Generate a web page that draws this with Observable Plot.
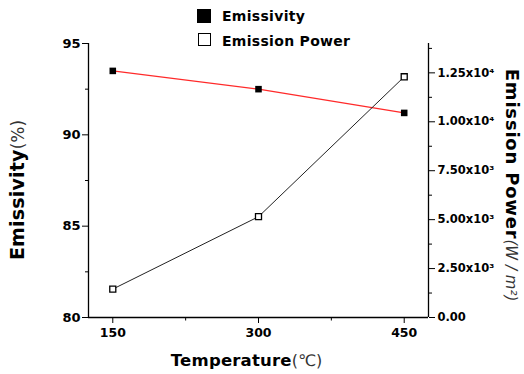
<!DOCTYPE html>
<html><head><meta charset="utf-8">
<script src="https://cdn.jsdelivr.net/npm/d3@7"></script>
<script src="https://cdn.jsdelivr.net/npm/@observablehq/plot@0.6"></script>
<style>
body{margin:0;background:#fff;}
#wrap{position:relative;width:524px;height:374px;overflow:hidden;background:#fff;}
#wrap svg{position:absolute;left:0;top:0;}
#wrap svg text{font-weight:bold;}
.ov{position:absolute;white-space:nowrap;line-height:1;color:#000;font-family:"DejaVu Sans",sans-serif;}
.b{font-weight:bold;}
.lt{font-weight:normal;color:#333;}
.sq{position:absolute;box-sizing:border-box;}
</style></head><body><div id="wrap"></div>
<script>
const temperatures = [150, 300, 450];
const emissivity = [93.5, 92.5, 91.2];
const emissionPower = [1450, 5150, 12300];
const emissivityTicks = [80, 85, 90, 95];
const emissivityMinorTicks = [82.5, 87.5, 92.5];
const temperatureTicks = [150, 300, 450];
const temperatureMinorTicks = [225, 375];
const powerTicks = [0, 2500, 5000, 7500, 10000, 12500];
const powerTickLabels = ["0.00", "2.50x10³", "5.00x10³", "7.50x10³", "1.00x10⁴", "1.25x10⁴"];
const powerMinorTicks = [1250, 3750, 6250, 8750, 11250, 13750];
const powerDomain = [0, 14000];
const emisDomain = [80, 95];
const tempDomain = [125, 475];

const toLeft = p => emisDomain[0] + (p - powerDomain[0]) * (emisDomain[1] - emisDomain[0]) / (powerDomain[1] - powerDomain[0]);
const data = temperatures.map((t, i) => ({t, e: emissivity[i], p: toLeft(emissionPower[i])}));
const powerLabelByY = new Map(powerTicks.map((p, i) => [toLeft(p), powerTickLabels[i]]));

const chart = Plot.plot({
  width: 524, height: 374,
  marginLeft: 88, marginRight: 96, marginTop: 43, marginBottom: 57,
  x: {domain: tempDomain, label: null},
  y: {domain: emisDomain, label: null},
  style: {fontFamily: "'DejaVu Sans', sans-serif", fontWeight: "bold", background: "white", color: "black"},
  marks: [
    Plot.ruleX([tempDomain[0]], {strokeWidth: 1.3}),
    Plot.ruleX([tempDomain[1]], {strokeWidth: 1.3}),
    Plot.ruleY([emisDomain[0]], {strokeWidth: 1.3}),
    Plot.axisY(emissivityTicks, {tickSize: 6, tickPadding: 2, fontSize: 13, fontWeight: "bold", label: null}),
    Plot.axisY(emissivityMinorTicks, {tickSize: 3, tickFormat: () => "", label: null}),
    Plot.axisX(temperatureTicks, {tickSize: 6, tickPadding: 5, fontSize: 12.5, fontWeight: "bold", label: null}),
    Plot.axisX(temperatureMinorTicks, {tickSize: 3.5, tickFormat: () => "", label: null}),
    Plot.axisY(powerTicks.map(toLeft), {anchor: "right", tickSize: 6, tickPadding: 3, tickFormat: y => powerLabelByY.get(y), fontSize: 11.5, fontWeight: "bold", label: null}),
    Plot.axisY(powerMinorTicks.map(toLeft), {anchor: "right", tickSize: 3, tickFormat: () => "", label: null}),
    Plot.line(data, {x: "t", y: "e", stroke: "#ff2a2a", strokeWidth: 1.3}),
    Plot.line(data, {x: "t", y: "p", stroke: "#222", strokeWidth: 1}),
    Plot.dot(data, {x: "t", y: "e", symbol: "square", r: 3.7, fill: "black"}),
    Plot.dot(data, {x: "t", y: "p", symbol: "square", r: 3.4, fill: "white", stroke: "black", strokeWidth: 1.3})
  ]
});
const wrap = document.getElementById("wrap");
wrap.appendChild(chart);

function add(html, style) {
  const d = document.createElement("div");
  d.className = "ov";
  d.innerHTML = html;
  Object.assign(d.style, style);
  wrap.appendChild(d);
  return d;
}
function sq(style) {
  const d = document.createElement("div");
  d.className = "sq";
  Object.assign(d.style, style);
  wrap.appendChild(d);
}
// legend
sq({left: "197px", top: "9px", width: "14px", height: "14px", background: "#000"});
add('<span class="b">Emissivity</span>', {left: "222px", top: "9.2px", fontSize: "14px", letterSpacing: "0.3px"});
sq({left: "198px", top: "33px", width: "13px", height: "13px", background: "#fff", border: "1.3px solid #000"});
add('<span class="b">Emission Power</span>', {left: "222px", top: "33.8px", fontSize: "14px", letterSpacing: "0.3px"});
// axis titles
add('<span class="b" style="font-size:19px;letter-spacing:0.2px">Emissivity</span><span class="lt" style="font-size:17px">(%)</span>',
  {left: "17px", top: "190px", transform: "translate(-50%,-50%) rotate(-90deg)"});
add('<span class="b" style="font-size:16.5px;letter-spacing:0.2px">Temperature</span><span class="lt" style="font-size:16px">(℃)</span>',
  {left: "246.5px", top: "353px", transform: "translateX(-50%)"});
add('<span class="b" style="font-size:18px;letter-spacing:0.8px">Emission Power</span><span class="lt" style="font-size:15px;font-style:italic">(W / m²)</span>',
  {left: "511.7px", top: "185px", transform: "translate(-50%,-50%) rotate(90deg)"});
</script>
</body></html>
